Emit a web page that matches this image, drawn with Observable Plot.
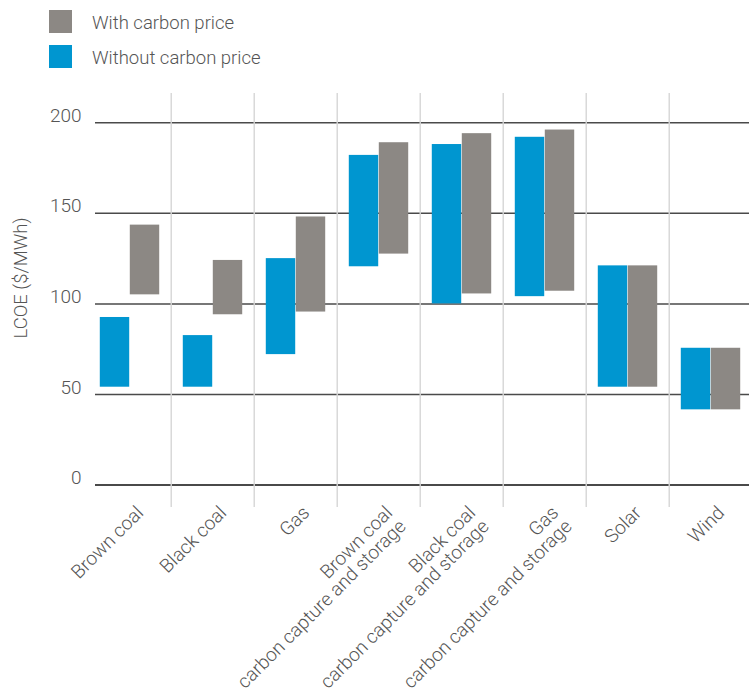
<!DOCTYPE html>
<html>
<head>
<meta charset="utf-8">
<script src="https://cdn.jsdelivr.net/npm/d3@7"></script>
<script src="https://cdn.jsdelivr.net/npm/@observablehq/plot@0.6"></script>
<style>
  html, body { margin: 0; padding: 0; background: #fff; }
  body { width: 749px; height: 697px; overflow: hidden; font-family: Roboto, "Open Sans", sans-serif; }
  #legend { position: relative; height: 80px; color: #555; font-size: 18.5px; font-weight: 300; }
  .item { position: absolute; left: 49px; display: flex; align-items: center; }
  .item span { padding-top: 3px; }
  .sw { width: 23px; height: 23px; margin-right: 20px; }
</style>
</head>
<body>
<div id="legend"></div>
<div id="chart"></div>
<script>
const categories = [
  "Brown coal",
  "Black coal",
  "Gas",
  "Brown coal\ncarbon capture and storage",
  "Black coal\ncarbon capture and storage",
  "Gas\ncarbon capture and storage",
  "Solar",
  "Wind"
];
const withoutLow  = [54, 54, 72, 120.5, 100, 104, 54, 41.5];
const withoutHigh = [92.5, 82.5, 125, 182, 188, 192, 121, 75.5];
const withLow     = [105, 94, 95.5, 127.5, 105.5, 107, 54, 41.5];
const withHigh    = [143.5, 124, 148, 189, 194, 196, 121, 75.5];
const seriesNames = ["With carbon price", "Without carbon price"];
const seriesColors = ["#8c8884", "#0096d0"];
const yTicks = [0, 50, 100, 150, 200];

// legend
const legend = document.getElementById("legend");
seriesNames.forEach((name, i) => {
  const it = document.createElement("div");
  it.className = "item";
  it.style.top = (i === 0 ? 9 : 44) + "px";
  it.innerHTML = `<div class="sw" style="background:${seriesColors[i]}"></div><span>${name}</span>`;
  legend.appendChild(it);
});

const rows = categories.flatMap((c, i) => [
  {category: c, series: seriesNames[1], low: withoutLow[i], high: withoutHigh[i]},
  {category: c, series: seriesNames[0], low: withLow[i], high: withHigh[i]}
]);

const W = 749, H = 617;
const xRange = [85.7, 754.3];
const step = (xRange[1] - xRange[0]) / categories.length;
const barW = 30;
const outer = step / 2 - barW;

const chart = Plot.plot({
  width: W,
  height: H,
  marginLeft: 95,
  marginRight: 0,
  marginTop: 13,
  marginBottom: 190,
  style: {fontFamily: "Roboto, 'Open Sans', sans-serif", color: "#555", background: "#fff"},
  x: {domain: categories, range: xRange, padding: 0},
  y: {domain: [0, 200], range: [404.5, 42.3]},
  color: {domain: seriesNames, range: seriesColors},
  marks: [
    Plot.ruleY(yTicks.filter(d => d !== 0), {stroke: "#4a4a4a", strokeWidth: 1.5}),
    Plot.ruleY([0], {stroke: "#4a4a4a", strokeWidth: 2.2}),
    Plot.ruleX(categories.slice(1), {x: d => d, dx: -step / 2, stroke: "#d6d6d6", strokeWidth: 1.4}),
    Plot.barY(rows.filter(d => d.series === seriesNames[1]), {
      x: "category", y1: "low", y2: "high", fill: "series",
      insetLeft: outer, insetRight: step / 2
    }),
    Plot.barY(rows.filter(d => d.series === seriesNames[0]), {
      x: "category", y1: "low", y2: "high", fill: "series",
      insetLeft: step / 2, insetRight: outer
    }),
    Plot.axisY({ticks: yTicks, tickSize: 0, tickPadding: 14, dy: -7, fontSize: 19, fontWeight: 300, fill: "#555", label: null}),
    Plot.axisX({tickSize: 0, tickRotate: -45, tickPadding: 0, fontSize: 19, fontWeight: 300, fill: "#555", label: null,
      textAnchor: "end", lineAnchor: "top", dx: 5, dy: -3}),
    Plot.text(["LCOE ($/MWh)"], {frameAnchor: "left", rotate: -90, dx: -74, dy: 38, fontSize: 18.5, fontWeight: 300, fill: "#555"})
  ]
});
document.getElementById("chart").appendChild(chart);
</script>
</body>
</html>
